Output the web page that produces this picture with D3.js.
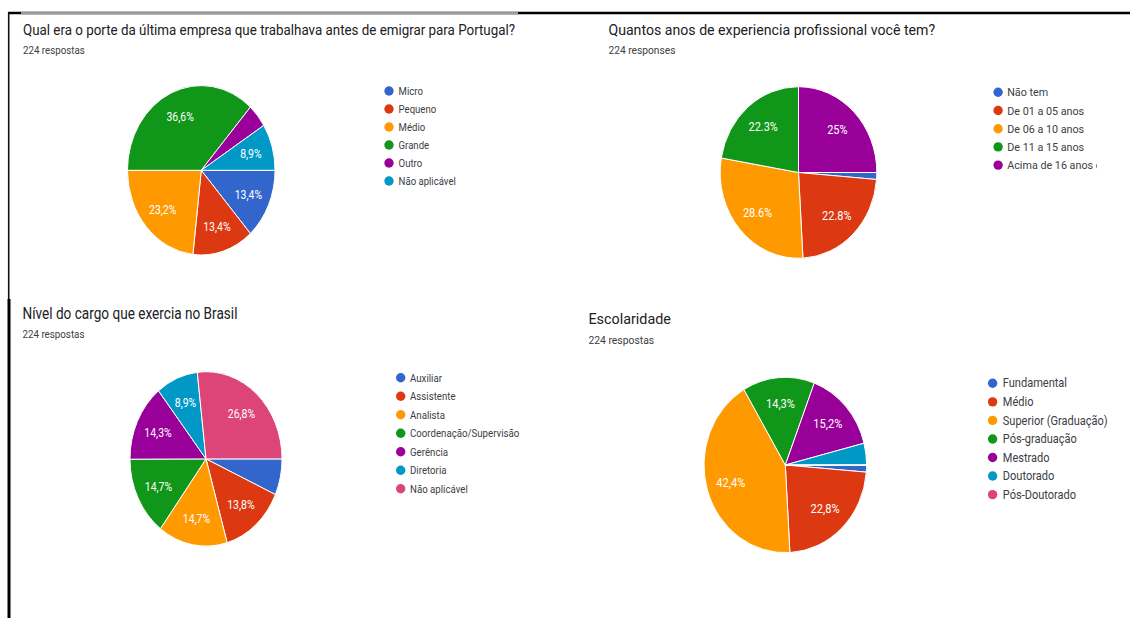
<!DOCTYPE html>
<html>
<head>
<meta charset="utf-8">
<script src="https://cdn.jsdelivr.net/npm/d3@7"></script>
<style>
  html, body { margin: 0; padding: 0; background: #fff; }
  svg { display: block; font-family: Roboto, "Liberation Sans", Arial, sans-serif; }
</style>
</head>
<body>
<svg id="chart" width="1131" height="619"></svg>
<script>
// Google-style slice palette, applied in category order
const palette = ["#3366cc", "#dc3912", "#ff9900", "#109618", "#990099", "#0099c6", "#dd4477"];

// Porte da última empresa (%)
const porteTitulo = "Qual era o porte da última empresa que trabalhava antes de emigrar para Portugal?";
const porteSubtitulo = "224 respostas";
const porteCategorias = ["Micro", "Pequeno", "Médio", "Grande", "Outro", "Não aplicável"];
const porteValores = [13.4, 13.4, 23.2, 36.6, 4.5, 8.9];

// Anos de experiência profissional (%)
const experienciaTitulo = "Quantos anos de experiencia profissional você tem?";
const experienciaSubtitulo = "224 responses";
const experienciaCategorias = ["Não tem", "De 01 a 05 anos", "De 06 a 10 anos", "De 11 a 15 anos", "Acima de 16 anos ou mais"];
const experienciaValores = [1.3, 22.8, 28.6, 22.3, 25];

// Nível do cargo no Brasil (%)
const cargoTitulo = "Nível do cargo que exercia no Brasil";
const cargoSubtitulo = "224 respostas";
const cargoCategorias = ["Auxiliar", "Assistente", "Analista", "Coordenação/Supervisão", "Gerência", "Diretoria", "Não aplicável"];
const cargoValores = [6.7, 13.8, 14.7, 14.7, 14.3, 8.9, 26.8];

// Escolaridade (%)
const escolaridadeTitulo = "Escolaridade";
const escolaridadeSubtitulo = "224 respostas";
const escolaridadeCategorias = ["Fundamental", "Médio", "Superior (Graduação)", "Pós-graduação", "Mestrado", "Doutorado", "Pós-Doutorado"];
const escolaridadeValores = [1.3, 22.8, 42.4, 14.3, 15.2, 4.0, 0];

// Slices below this share carry no percentage text
const labelThreshold = 8;

const panels = [
  { title: porteTitulo, subtitle: porteSubtitulo, categories: porteCategorias, values: porteValores, decimal: ",",
    titleX: 23, titleY: 35, titleSize: 15.35, subY: 53.5, subSize: 11.2,
    cx: 201.25, cy: 170.3, r: 84.7, sx: 0.871,
    legendDotX: 389, legendTextX: 398.6, legendY: 91, legendStep: 18, legendSize: 11, clipRight: null },
  { title: experienciaTitulo, subtitle: experienciaSubtitulo, categories: experienciaCategorias, values: experienciaValores, decimal: ".",
    titleX: 608.4, titleY: 35, titleSize: 15.5, subY: 54, subSize: 11.2,
    cx: 798.5, cy: 172.5, r: 85.8, sx: 0.913,
    legendDotX: 998.1, legendTextX: 1007.2, legendY: 92.3, legendStep: 18.2, legendSize: 11.8, clipRight: 1097 },
  { title: cargoTitulo, subtitle: cargoSubtitulo, categories: cargoCategorias, values: cargoValores, decimal: ",",
    titleX: 22.5, titleY: 319.3, titleSize: 15.6, subY: 338.3, subSize: 11.2,
    cx: 206, cy: 458.9, r: 87.2, sx: 0.872,
    legendDotX: 400.7, legendTextX: 410, legendY: 377.7, legendStep: 18.5, legendSize: 11.1, clipRight: null },
  { title: escolaridadeTitulo, subtitle: escolaridadeSubtitulo, categories: escolaridadeCategorias, values: escolaridadeValores, decimal: ",",
    titleX: 588.4, titleY: 324.3, titleSize: 15.5, subY: 344, subSize: 11.2,
    cx: 785.3, cy: 465, r: 87.7, sx: 0.927,
    legendDotX: 992.6, legendTextX: 1002.8, legendY: 383.3, legendStep: 18.55, legendSize: 11.9, clipRight: null }
];

const svg = d3.select("#chart");
const defs = svg.append("defs");

function formatPct(v, decimal) {
  const s = Number.isInteger(v) ? String(v) : v.toFixed(1);
  return s.replace(".", decimal) + "%";
}

// Frame lines around the collage
svg.append("line").attr("x1", 8).attr("x2", 1130).attr("y1", 13).attr("y2", 13)
  .attr("stroke", "#000").attr("stroke-width", 2.5);
svg.append("line").attr("x1", 21).attr("x2", 518).attr("y1", 13).attr("y2", 13)
  .attr("stroke", "#9a9a9a").attr("stroke-width", 2.5);
svg.append("line").attr("x1", 8.7).attr("x2", 8.7).attr("y1", 12).attr("y2", 299)
  .attr("stroke", "#111").attr("stroke-width", 1.6);
svg.append("line").attr("x1", 9).attr("x2", 9).attr("y1", 299).attr("y2", 618)
  .attr("stroke", "#000").attr("stroke-width", 3);

const pie = d3.pie()
  .sort(null)
  .value(d => d.value)
  .startAngle(Math.PI / 2)
  .endAngle(Math.PI / 2 + 2 * Math.PI);

panels.forEach((p, pi) => {
  const data = p.categories.map((c, i) => ({ category: c, value: p.values[i], color: palette[i] }));
  const panel = svg.append("g").attr("class", "panel");

  // Title and response count
  panel.append("text")
    .attr("transform", `translate(${p.titleX},${p.titleY}) scale(${p.sx},1)`)
    .attr("font-size", p.titleSize)
    .attr("fill", "#202124")
    .text(p.title);
  panel.append("text")
    .attr("transform", `translate(${p.titleX},${p.subY}) scale(${p.sx},1)`)
    .attr("font-size", p.subSize)
    .attr("fill", "#3c4043")
    .text(p.subtitle);

  // Pie (slightly squeezed horizontally, like the source layout)
  const arc = d3.arc().innerRadius(0).outerRadius(p.r);
  const labelArc = d3.arc().innerRadius(p.r * 0.7).outerRadius(p.r * 0.7);
  const g = panel.append("g").attr("transform", `translate(${p.cx},${p.cy}) scale(${p.sx},1)`);
  const arcs = pie(data);

  g.selectAll("path.slice")
    .data(arcs)
    .join("path")
    .attr("class", "slice")
    .attr("d", arc)
    .attr("fill", d => d.data.color)
    .attr("stroke", "#fff")
    .attr("stroke-width", 1)
    .attr("vector-effect", "non-scaling-stroke");

  g.selectAll("text.pct")
    .data(arcs.filter(d => d.data.value >= labelThreshold))
    .join("text")
    .attr("class", "pct")
    .attr("transform", d => `translate(${labelArc.centroid(d)})`)
    .attr("text-anchor", "middle")
    .attr("dy", "0.36em")
    .attr("font-size", 12)
    .attr("fill", "#fff")
    .text(d => formatPct(d.data.value, p.decimal));

  // Legend
  const legend = panel.append("g");
  if (p.clipRight) {
    defs.append("clipPath").attr("id", "legend-clip-" + pi)
      .append("rect")
      .attr("x", p.legendDotX - 10).attr("y", p.legendY - 15)
      .attr("width", p.clipRight - (p.legendDotX - 10))
      .attr("height", p.legendStep * data.length + 20);
    legend.attr("clip-path", `url(#legend-clip-${pi})`);
  }
  const rows = legend.selectAll("g.row")
    .data(data)
    .join("g")
    .attr("class", "row");
  rows.append("circle")
    .attr("cx", p.legendDotX)
    .attr("cy", (d, i) => p.legendY + i * p.legendStep)
    .attr("r", 4.7)
    .attr("fill", d => d.color);
  rows.append("text")
    .attr("transform", (d, i) => `translate(${p.legendTextX},${p.legendY + i * p.legendStep}) scale(${p.sx},1)`)
    .attr("dy", "0.35em")
    .attr("font-size", p.legendSize)
    .attr("fill", "#3c4043")
    .text(d => d.category);
});
</script>
</body>
</html>
